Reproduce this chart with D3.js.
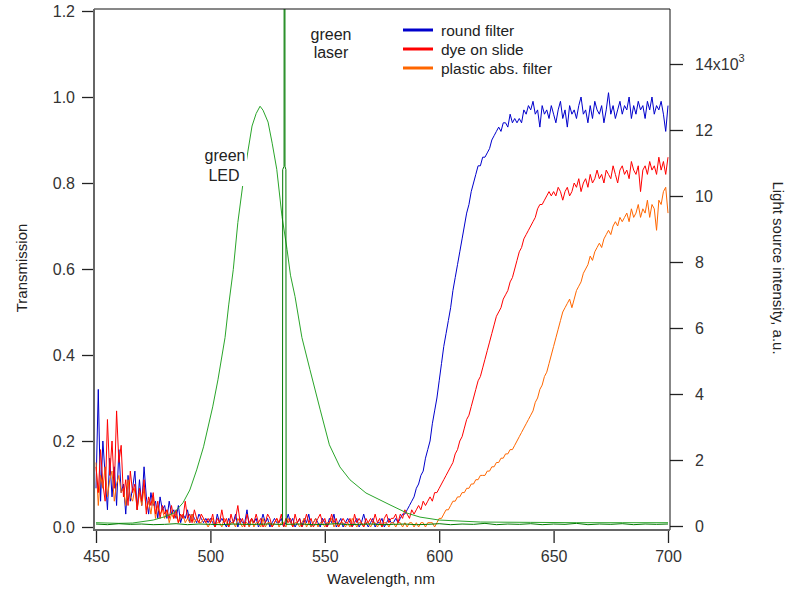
<!DOCTYPE html>
<html>
<head>
<meta charset="utf-8">
<script src="https://cdn.jsdelivr.net/npm/d3@7"></script>
<style>
  body { margin: 0; background: #fff; }
  text { font-family: "Liberation Sans", Arial, sans-serif; }
</style>
</head>
<body>
<div id="my_dataviz"></div>
<script>
// wavelength grid in nm, 1 nm steps
var wavelength = d3.range(450, 701);

// transmission, one value per nm from 450 to 700
var roundFilter = [
  .09,.32,.06,.20,.12,.04,.16,.07,.14,.05,
  .18,.08,.10,.03,.12,.06,.09,.13,.04,.11,
  .05,.14,.07,.03,.08,.05,.06,.02,.07,.04,
  .05,.02,.06,.03,.04,.02,.05,.01,.03,.02,
  .04,.01,.03,.02,.01,.03,.02,.01,.02,.01,
  .02,.01,.00,.03,.01,.02,.01,.00,.02,.01,
  .01,.03,.00,.02,.01,.01,.04,.00,.02,.01,
  .02,.00,.01,.03,.01,.02,.00,.01,.02,.01,
  .01,.02,.00,.01,.03,.01,.02,.00,.01,.02,
  .00,.02,.01,.03,.00,.01,.02,.01,.00,.02,
  .01,.00,.02,.01,.03,.00,.01,.02,.00,.01,
  .02,.01,.00,.01,.02,.00,.01,.03,.01,.00,
  .01,.02,.00,.01,.01,.02,.00,.01,.02,.01,
  .01,.02,.01,.02,.03,.03,.04,.05,.06,.07,
  .09,.10,.12,.13,.16,.18,.20,.24,.27,.30,
  .34,.38,.42,.45,.48,.51,.55,.58,.61,.64,
  .67,.70,.73,.75,.78,.80,.82,.84,.84,.86,
  .86,.87,.88,.90,.91,.92,.93,.92,.94,.94,
  .93,.96,.94,.95,.94,.95,.94,.97,.96,.98,
  .97,.99,.96,.97,.93,.98,.96,.97,.95,.98,
  .96,.94,.97,.99,.95,.97,.93,.98,.96,.97,
  .95,.98,1.00,.96,.97,.94,.98,.95,.99,.97,
  .96,.98,.94,.97,1.01,.96,.98,.95,.97,.99,
  .96,.98,.97,1.00,.95,.98,.96,.99,.97,.98,
  .95,.99,.97,1.00,.96,.98,.97,.99,.96,.92,
  .98
];
var dyeOnSlide = [
  .14,.08,.18,.10,.06,.25,.12,.20,.09,.27,
  .15,.19,.07,.11,.05,.13,.08,.10,.04,.09,
  .06,.11,.03,.07,.05,.08,.03,.06,.02,.05,
  .03,.04,.02,.05,.02,.04,.01,.03,.02,.06,
  .02,.03,.01,.04,.02,.01,.03,.02,.01,.02,
  .01,.03,.00,.02,.01,.04,.01,.02,.00,.03,
  .01,.02,.05,.01,.02,.00,.03,.01,.02,.01,
  .03,.01,.02,.00,.01,.03,.02,.00,.01,.02,
  .01,.03,.00,.02,.01,.02,.00,.03,.01,.02,
  .00,.01,.03,.01,.02,.00,.01,.02,.03,.01,
  .02,.00,.01,.03,.01,.02,.00,.01,.02,.01,
  .01,.02,.00,.03,.01,.02,.01,.00,.02,.01,
  .02,.01,.03,.01,.02,.00,.02,.03,.01,.02,
  .02,.03,.01,.03,.02,.04,.03,.02,.04,.03,
  .04,.05,.04,.06,.05,.06,.07,.06,.08,.08,
  .09,.10,.11,.12,.13,.14,.15,.17,.18,.20,
  .21,.23,.25,.26,.28,.30,.32,.34,.35,.37,
  .39,.41,.43,.45,.47,.49,.50,.51,.53,.54,
  .55,.57,.58,.60,.62,.64,.65,.67,.68,.69,
  .70,.71,.72,.74,.75,.75,.76,.77,.78,.77,
  .78,.77,.79,.78,.76,.78,.79,.77,.78,.80,
  .79,.81,.78,.80,.81,.79,.82,.80,.81,.83,
  .81,.82,.80,.83,.82,.81,.84,.82,.80,.83,
  .84,.82,.83,.81,.85,.83,.82,.84,.78,.83,
  .84,.82,.85,.83,.84,.82,.86,.83,.85,.82,
  .86
];
var plasticFilter = [
  .15,.05,.12,.09,.14,.07,.11,.13,.06,.10,
  .12,.08,.09,.05,.11,.07,.06,.09,.04,.08,
  .05,.09,.04,.06,.03,.07,.02,.05,.03,.04,
  .02,.04,.01,.03,.02,.03,.01,.02,.03,.01,
  .02,.01,.03,.01,.02,.01,.01,.02,.01,.00,
  .01,.02,.00,.01,.01,.00,.02,.01,.00,.01,
  .01,.00,.02,.01,.00,.01,.01,.00,.02,.00,
  .01,.01,.00,.02,.00,.01,.01,.00,.01,.02,
  .00,.01,.01,.00,.02,.01,.00,.01,.01,.00,
  .01,.02,.00,.01,.00,.01,.02,.00,.01,.01,
  .00,.01,.01,.02,.00,.01,.00,.01,.01,.00,
  .01,.00,.02,.01,.00,.01,.01,.00,.01,.01,
  .00,.01,.01,.00,.01,.00,.01,.01,.00,.01,
  .01,.00,.01,.01,.00,.01,.00,.01,.01,.00,
  .01,.00,.01,.01,.00,.01,.01,.01,.00,.01,
  .02,.02,.03,.04,.04,.05,.06,.06,.07,.07,
  .08,.08,.09,.09,.10,.10,.11,.11,.12,.12,
  .12,.13,.13,.14,.14,.15,.15,.16,.16,.17,
  .17,.18,.18,.19,.20,.21,.22,.23,.24,.25,
  .26,.27,.29,.30,.32,.33,.35,.36,.38,.40,
  .42,.44,.46,.48,.50,.51,.52,.53,.51,.53,
  .55,.56,.57,.59,.60,.61,.63,.62,.64,.65,
  .66,.65,.67,.68,.69,.68,.70,.71,.70,.72,
  .71,.72,.73,.71,.74,.72,.73,.75,.72,.74,
  .73,.76,.72,.75,.74,.69,.76,.75,.78,.79,
  .73
];

// light sources, intensity in units of 10^3
var ledNm  = [450,460,466,475,480,484,488,491,494,497,501,503.3,506.4,508,510,512,514.2,516.4,518.2,520,521.7,523,525.2,527,529,531.3,533.5,535,537,540,543.5,548,552,556.6,561,568,578.5,586,591.6,600,618,640,660,680,700];
var ledVal = [0.10,0.08,0.09,0.18,0.28,0.39,0.70,1.09,1.70,2.40,3.61,4.43,5.71,6.70,7.77,9.20,10.36,11.36,12.12,12.50,12.72,12.60,12.24,11.60,10.81,9.38,8.38,7.60,6.95,5.71,4.74,3.52,2.46,1.79,1.40,1.00,0.64,0.39,0.27,0.18,0.12,0.11,0.10,0.10,0.10];
var laserNm  = [450,455,460,465,470,475,480,485,490,495,500,505,510,515,520,525,530,531.5,531.6,532.2,532.3,532.5,532.6,533.0,533.1,540,545,550,555,560,565,570,575,580,585,590,595,600,605,610,615,620,625,630,635,640,645,650,655,660,665,670,675,680,685,690,695,700];
var laserVal = [0.06,0.04,0.07,0.05,0.06,0.04,0.05,0.07,0.04,0.06,0.05,0.04,0.06,0.05,0.05,0.06,0.05,0.05,10.8,10.9,40,40,10.9,10.8,0.05,0.06,0.04,0.05,0.07,0.04,0.05,0.06,0.04,0.05,0.06,0.04,0.05,0.07,0.04,0.06,0.05,0.08,0.04,0.06,0.05,0.07,0.04,0.06,0.05,0.08,0.04,0.06,0.05,0.07,0.04,0.06,0.05,0.06];

var xTicks = [450, 500, 550, 600, 650, 700];
var yTicks = [0, 0.2, 0.4, 0.6, 0.8, 1.0, 1.2];
var y2Ticks = [0, 2, 4, 6, 8, 10, 12, 14];
var legendLabels = ["round filter", "dye on slide", "plastic abs. filter"];
var legendColors = ["#0000cc", "#ff0000", "#ff6600"];

var width = 787, height = 594;

var svg = d3.select("#my_dataviz")
  .append("svg")
    .attr("width", width)
    .attr("height", height);

var x = d3.scaleLinear().domain([450, 700]).range([96, 668]);
var y = d3.scaleLinear().domain([0, 1.2]).range([527, 11]);
var y2 = d3.scaleLinear().domain([0, 14]).range([526, 64]);

// clip to plot area
svg.append("clipPath").attr("id", "plot")
  .append("rect").attr("x", 95).attr("y", 9).attr("width", 575).attr("height", 520);

var plot = svg.append("g").attr("clip-path", "url(#plot)");

var trans = d3.line()
  .x(function(d, i) { return x(wavelength[i]); })
  .y(function(d) { return y(d); });

[[roundFilter, "#0000cc"], [plasticFilter, "#ff6600"], [dyeOnSlide, "#ff0000"]].forEach(function(s) {
  plot.append("path")
    .datum(s[0])
    .attr("fill", "none")
    .attr("stroke", s[1])
    .attr("stroke-width", 1)
    .attr("d", trans);
});

var src = function(nm) {
  return d3.line()
    .x(function(d, i) { return x(nm[i]); })
    .y(function(d) { return y2(d); });
};

plot.append("path")
  .datum(ledVal)
  .attr("fill", "none")
  .attr("stroke", "#2aa52a")
  .attr("stroke-width", 1)
  .attr("d", src(ledNm));

plot.append("path")
  .datum(laserVal)
  .attr("fill", "none")
  .attr("stroke", "#007a00")
  .attr("stroke-width", 1)
  .attr("d", src(laserNm));

// axes
var xAxis = svg.append("g")
  .attr("transform", "translate(0,530)")
  .call(d3.axisBottom(x).tickValues(xTicks).tickSize(13).tickPadding(8).tickSizeOuter(0));
var yAxis = svg.append("g")
  .attr("transform", "translate(94,0)")
  .call(d3.axisLeft(y).tickValues(yTicks).tickSize(12).tickPadding(7).tickFormat(d3.format(".1f")));
var y2Axis = svg.append("g")
  .attr("transform", "translate(670,0)")
  .call(d3.axisRight(y2).tickValues(y2Ticks).tickSize(13).tickPadding(12));

[xAxis, yAxis, y2Axis].forEach(function(g) {
  g.select(".domain").remove();
  g.attr("font-size", 16).attr("font-family", "Liberation Sans, Arial, sans-serif").attr("color", "#222");
  g.selectAll("line").attr("stroke-width", 1.3);
  g.selectAll("text").attr("fill", "#333");
});

// 14x10^3 label
y2Axis.selectAll(".tick text").filter(function(d) { return d === 14; })
  .text("14x10")
  .append("tspan").attr("font-size", 11).attr("dy", "-0.7em").text("3");

// frame
svg.append("line").attr("x1", 94).attr("x2", 670).attr("y1", 9).attr("y2", 9).attr("stroke", "#111");
svg.append("line").attr("x1", 670).attr("x2", 670).attr("y1", 9).attr("y2", 530).attr("stroke", "#111");
svg.append("line").attr("x1", 94).attr("x2", 94).attr("y1", 9).attr("y2", 531).attr("stroke", "#666").attr("stroke-width", 2);
svg.append("line").attr("x1", 93).attr("x2", 670).attr("y1", 530).attr("y2", 530).attr("stroke", "#666").attr("stroke-width", 2);

// axis titles
svg.append("text")
  .attr("transform", "translate(27,268) rotate(-90)")
  .attr("text-anchor", "middle")
  .attr("font-size", 15)
  .attr("fill", "#222")
  .text("Transmission");

svg.append("text")
  .attr("transform", "translate(773,268) rotate(90)")
  .attr("text-anchor", "middle")
  .attr("font-size", 15)
  .attr("fill", "#222")
  .text("Light source intensity, a.u.");

svg.append("text")
  .attr("x", 381).attr("y", 584)
  .attr("text-anchor", "middle")
  .attr("font-size", 15)
  .attr("fill", "#222")
  .text("Wavelength, nm");

// annotations
svg.append("rect").attr("x", 201).attr("y", 147).attr("width", 46).attr("height", 39).attr("fill", "#fff");
[["green", 225, 161], ["LED", 224, 181], ["green", 331, 40], ["laser", 331, 58]].forEach(function(a) {
  svg.append("text")
    .attr("x", a[1]).attr("y", a[2])
    .attr("text-anchor", "middle")
    .attr("font-size", 16)
    .attr("fill", "#222")
    .text(a[0]);
});

// legend
var legend = svg.append("g");
legendLabels.forEach(function(l, i) {
  var ly = 30 + i * 19;
  legend.append("line")
    .attr("x1", 403).attr("x2", 433).attr("y1", ly).attr("y2", ly)
    .attr("stroke", legendColors[i]).attr("stroke-width", 3);
  legend.append("text")
    .attr("x", 441).attr("y", ly + 5.5)
    .attr("font-size", 15.5)
    .attr("fill", "#222")
    .text(l);
});
</script>
</body>
</html>
